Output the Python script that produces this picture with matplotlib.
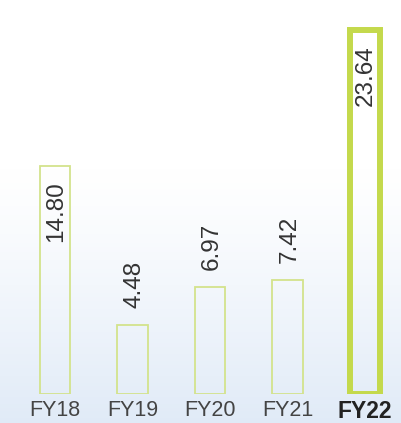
import numpy as np
import matplotlib.pyplot as plt

years = ["FY18", "FY19", "FY20", "FY21", "FY22"]
values = [14.80, 4.48, 6.97, 7.42, 23.64]
labels = ["14.80", "4.48", "6.97", "7.42", "23.64"]
inside = [True, False, False, False, True]

plt.rcParams["font.family"] = ["Liberation Sans", "DejaVu Sans"]

fig = plt.figure(figsize=(4.01, 4.23), dpi=100)

# soft background: white at top fading into a pale blue
bg = fig.add_axes([0, 0, 1, 1], zorder=0)
grad = np.linspace(0, 1, 256).reshape(-1, 1)
top = np.array([1.0, 1.0, 1.0])
bottom = np.array([0.88, 0.92, 0.97])
w = np.clip((grad - 0.4) / 0.6, 0, 1) ** 1.2
img = top + (bottom - top) * w[..., None]
bg.imshow(img, aspect="auto", extent=[0, 1, 0, 1], origin="upper")
bg.axis("off")

px_unit = 15.4
ax = fig.add_axes([0, 29 / 423, 1, 387.5 / 423], zorder=1)
ax.patch.set_alpha(0)
x = np.arange(len(years))
for i, (v, lab) in enumerate(zip(values, labels)):
    last = i == len(years) - 1
    ax.bar(x[i], v, width=0.39, facecolor="none",
           edgecolor="#c4d94c" if last else "#d3e38c",
           linewidth=4.3 if last else 1.3)
    if inside[i]:
        ax.annotate(lab, (x[i], v), xytext=(1, -15), textcoords="offset pixels",
                    rotation=90, ha="center", va="top", fontsize=17.5, color="#333333")
    else:
        ax.annotate(lab, (x[i], v), xytext=(2, 17), textcoords="offset pixels",
                    rotation=90, ha="center", va="bottom", fontsize=17.5, color="#333333")

ax.set_xlim(-55 / 77.5, 346 / 77.5)
ax.set_ylim(0, 387.5 / px_unit)
ax.set_xticks(x)
ax.set_xticklabels(years, fontsize=15.5, color="#444444")
ax.get_xticklabels()[-1].set_fontweight("bold")
ax.get_xticklabels()[-1].set_fontsize(16.5)
ax.get_xticklabels()[-1].set_color("#222222")
ax.tick_params(axis="x", length=0, pad=4)
ax.set_yticks([])
for s in ax.spines.values():
    s.set_visible(False)

fig.savefig("out.png", dpi=100)
